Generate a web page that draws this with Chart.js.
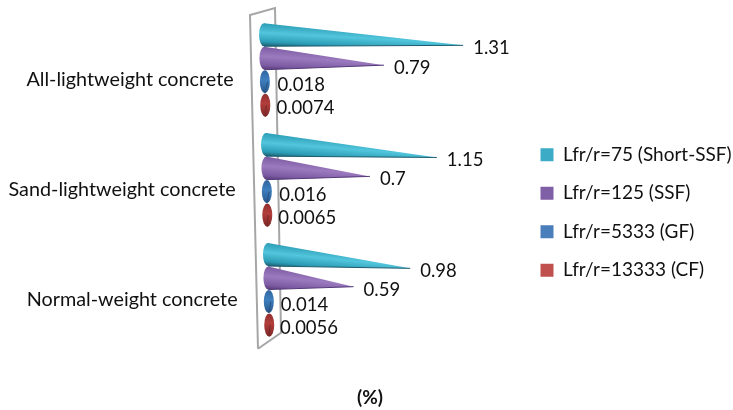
<!DOCTYPE html>
<html>
<head>
<meta charset="utf-8">
<style>
html, body { margin: 0; padding: 0; background: #fff; }
#wrap { width: 733px; height: 410px; }
</style>
<script src="https://cdn.jsdelivr.net/npm/chart.js@4/dist/chart.umd.min.js"></script>
</head>
<body>
<div id="wrap"><canvas id="chart"></canvas></div>
<script>
let categories = ['All-lightweight concrete', 'Sand-lightweight concrete', 'Normal-weight concrete'];
let shortSSF = [1.31, 1.15, 0.98];
let ssf = [0.79, 0.7, 0.59];
let gf = [0.018, 0.016, 0.014];
let cf = [0.0074, 0.0065, 0.0056];
let seriesNames = ['Lfr/r=75 (Short-SSF)', 'Lfr/r=125 (SSF)', 'Lfr/r=5333 (GF)', 'Lfr/r=13333 (CF)'];
let legendColors = ['#3cabc6', '#7f5fa5', '#4a7ebb', '#c0504d'];
let coneColors = [
    ['#2b9cb5', '#52c6dc', '#1d5b6d'],
    ['#7d5ba3', '#9c7abf', '#543a78'],
    ['#2f659f', '#3f7fbd', '#27517f'],
    ['#8f2f2e', '#b23e3c', '#7a2826']
];
let fontName = 'Lato, "Open Sans", sans-serif';

// the picture is a 3D chart, so everything slides right and shrinks going down
function shiftAt(y){ return (y - 33) * 4 / 223; }
function shrinkAt(y){ return 1 - (y - 33) * 0.046 / 223; }
function tiltAt(y){ return 0.053 + (y - 33) * 0.0002; }

function drawCone(ctx, bar, colors){
    let rx = 5;
    let ry = bar.height / 2 - 0.2;
    let cx = bar.base + shiftAt(bar.y);
    let len = (bar.x - bar.base) * shrinkAt(bar.y);
    let tipX = cx + len;
    let tipY = bar.y + len * tiltAt(bar.y);
    // shading runs across the cone axis, so the tip keeps the middle colour
    let d = Math.hypot(len, tipY - bar.y);
    let nx = -(tipY - bar.y) / d * ry;
    let ny = len / d * ry;
    let grad = ctx.createLinearGradient(cx - nx, bar.y - ny, cx + nx, bar.y + ny);
    grad.addColorStop(0, colors[0]);
    grad.addColorStop(0.42, colors[1]);
    grad.addColorStop(0.8, colors[0]);
    grad.addColorStop(1, colors[2]);
    ctx.fillStyle = grad;
    ctx.beginPath();
    ctx.ellipse(cx, bar.y, rx, ry, 0, 0, Math.PI * 2);
    ctx.fill();
    ctx.beginPath();
    ctx.moveTo(cx, bar.y - ry);
    ctx.lineTo(tipX, tipY);
    ctx.lineTo(cx, bar.y + ry);
    ctx.closePath();
    ctx.fill();
    ctx.strokeStyle = colors[2];
    ctx.lineWidth = 1;
    ctx.beginPath();
    ctx.moveTo(cx, bar.y + ry);
    ctx.lineTo(tipX, tipY);
    ctx.stroke();
    return {x: tipX, y: tipY};
}

let conePlugin = {
    id: 'cones',
    beforeDatasetsDraw(chart){
        // grey back wall of the 3D box
        let ctx = chart.ctx;
        let a = chart.chartArea;
        ctx.save();
        ctx.strokeStyle = '#a6a6a6';
        ctx.lineWidth = 2;
        ctx.beginPath();
        ctx.moveTo(a.left - 6, a.bottom + 4);
        ctx.lineTo(a.left - 14, a.top);
        ctx.lineTo(a.left + 11, a.top - 7);
        ctx.lineTo(a.left + 17, a.bottom - 12);
        ctx.lineTo(a.left - 6, a.bottom + 4);
        ctx.stroke();
        ctx.restore();
    },
    beforeDatasetDraw(chart, args){
        let ctx = chart.ctx;
        let meta = chart.getDatasetMeta(args.index);
        ctx.save();
        meta.data.forEach((bar, i) => {
            let props = bar.getProps(['x', 'y', 'base', 'height'], true);
            let tip = drawCone(ctx, props, coneColors[args.index]);
            ctx.fillStyle = '#111';
            ctx.font = '18.5px ' + fontName;
            ctx.textAlign = 'left';
            ctx.textBaseline = 'middle';
            ctx.fillText(String(chart.data.datasets[args.index].data[i]), tip.x + 10, tip.y + 3);
        });
        ctx.restore();
        return false; // cone replaces the flat bar
    },
    afterDatasetsDraw(chart){
        let ctx = chart.ctx;
        let yScale = chart.scales.y;
        ctx.save();
        ctx.fillStyle = '#111';
        ctx.font = '19.8px ' + fontName;
        ctx.textAlign = 'right';
        ctx.textBaseline = 'middle';
        categories.forEach((name, i) => {
            let y = yScale.getPixelForTick(i);
            ctx.fillText(name, chart.chartArea.left - 31 + shiftAt(y), y + 10);
        });
        ctx.restore();
    }
};

new Chart(document.getElementById('chart'), {
    type: 'bar',
    data: {
        labels: categories,
        datasets: [
            {label: seriesNames[0], data: shortSSF, backgroundColor: legendColors[0]},
            {label: seriesNames[1], data: ssf, backgroundColor: legendColors[1]},
            {label: seriesNames[2], data: gf, backgroundColor: legendColors[2]},
            {label: seriesNames[3], data: cf, backgroundColor: legendColors[3]}
        ]
    },
    options: {
        indexAxis: 'y',
        responsive: true,
        maintainAspectRatio: false,
        animation: false,
        layout: {padding: {left: 7, top: 15, right: 0, bottom: 0}},
        datasets: {bar: {categoryPercentage: 0.855, barPercentage: 1}},
        scales: {
            x: {min: 0, max: 1.69, display: false},
            y: {
                grid: {display: false},
                border: {display: false},
                ticks: {display: false},
                afterFit(scale){ scale.width = 257; }
            }
        },
        plugins: {
            tooltip: {enabled: false},
            legend: {
                position: 'right',
                maxWidth: 212,
                labels: {
                    boxWidth: 13,
                    boxHeight: 13,
                    padding: 19.5,
                    color: '#111',
                    font: {family: fontName, size: 19}
                }
            },
            title: {
                display: true,
                position: 'bottom',
                text: '(%)',
                color: '#111',
                font: {family: fontName, size: 19, weight: 'bold'},
                padding: {top: 41.5, bottom: 1}
            }
        }
    },
    plugins: [conePlugin]
});
</script>
</body>
</html>
